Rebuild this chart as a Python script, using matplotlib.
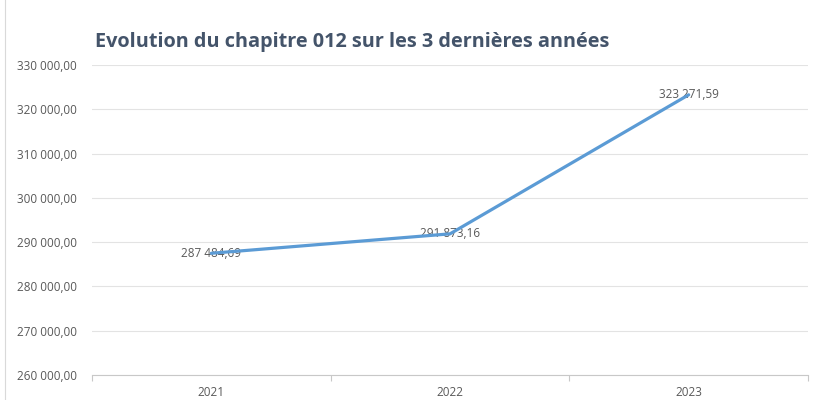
import matplotlib
matplotlib.use('Agg')
import matplotlib.pyplot as plt
from matplotlib.lines import Line2D
from matplotlib.ticker import FuncFormatter

years = ['2021', '2022', '2023']
values = [287484.69, 291873.16, 323271.59]
title = 'Evolution du chapitre 012 sur les 3 dernières années'


def fr_format(v, decimals=2):
    s = f'{v:,.{decimals}f}'
    return s.replace(',', ' ').replace('.', ',')


plt.rcParams['font.family'] = ['Open Sans', 'DejaVu Sans']

fig = plt.figure(figsize=(8.16, 4.0), dpi=100)
ax = fig.add_axes([92 / 816, 25 / 400, 716 / 816, 310 / 400])

x = range(len(years))
ax.plot(x, values, color='#5B9BD5', linewidth=2.3, solid_capstyle='round', zorder=3)

for i, v in enumerate(values):
    ax.text(i, v, fr_format(v), ha='center', va='center', fontsize=8.5,
            color='#595959', zorder=2)

ax.set_xlim(-0.5, len(years) - 0.5)
ax.set_ylim(260000, 330000)
ax.set_yticks(range(260000, 330001, 10000))
ax.yaxis.set_major_formatter(FuncFormatter(lambda v, p: fr_format(v)))
ax.set_xticks(list(x))
ax.set_xticklabels(years)
ax.set_xticks([-0.5, 0.5, 1.5, 2.5], minor=True)

ax.grid(axis='y', color='#E3E3E3', linewidth=0.8)
ax.set_axisbelow(True)
for side in ['top', 'right', 'left']:
    ax.spines[side].set_visible(False)
ax.spines['bottom'].set_color('#C8C8C8')
ax.spines['bottom'].set_linewidth(0.8)

ax.tick_params(axis='y', length=0, pad=11, labelsize=8.5, labelcolor='#595959')
ax.tick_params(axis='x', which='major', length=0, pad=8, labelsize=8.5, labelcolor='#595959')
ax.tick_params(axis='x', which='minor', length=4, color='#C8C8C8', width=0.8)

fig.text(95 / 816, 1 - 42 / 400, title, fontsize=14.3, fontweight='bold',
         color='#44546A', ha='left', va='center')

fig.add_artist(Line2D([5 / 816, 5 / 816], [0, 1], color='#D9D9D9', linewidth=0.8))

fig.savefig('out.png', dpi=100)
